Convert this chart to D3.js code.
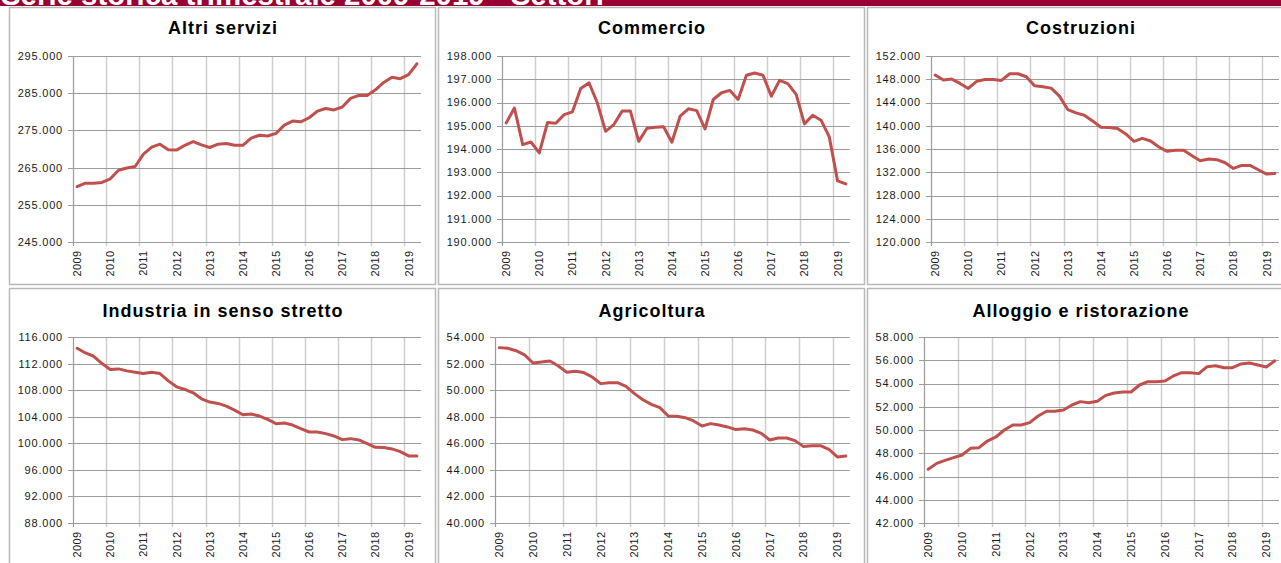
<!DOCTYPE html>
<html>
<head>
<meta charset="utf-8">
<script src="https://cdn.jsdelivr.net/npm/d3@7"></script>
<style>
  body { margin: 0; background: #fff; }
  svg { display: block; }
  text { font-family: Arial, "Liberation Sans", sans-serif; }
</style>
</head>
<body>
<div id="chart"></div>
<script>
// quarterly categories 2009 T1 .. 2019 T2
const quarters = [
  "2009-T1","2009-T2","2009-T3","2009-T4","2010-T1","2010-T2","2010-T3","2010-T4",
  "2011-T1","2011-T2","2011-T3","2011-T4","2012-T1","2012-T2","2012-T3","2012-T4",
  "2013-T1","2013-T2","2013-T3","2013-T4","2014-T1","2014-T2","2014-T3","2014-T4",
  "2015-T1","2015-T2","2015-T3","2015-T4","2016-T1","2016-T2","2016-T3","2016-T4",
  "2017-T1","2017-T2","2017-T3","2017-T4","2018-T1","2018-T2","2018-T3","2018-T4",
  "2019-T1","2019-T2"
]
const years = ["2009","2010","2011","2012","2013","2014","2015","2016","2017","2018","2019"]

const titles = ["Altri servizi", "Commercio", "Costruzioni",
                "Industria  in senso stretto", "Agricoltura", "Alloggio  e ristorazione"]

const altriServizi = [
  259900,260800,260800,261000,262000,264300,264900,265300,268600,270500,271300,269800,
  269700,271000,272000,271100,270400,271300,271500,271000,271000,272900,273700,273500,
  274200,276400,277500,277300,278400,280200,280900,280500,281300,283600,284400,284400,
  285900,287900,289300,288900,290000,292900
]
const commercio = [
  195120,195760,194190,194300,193830,195140,195110,195480,195600,196600,196850,195990,
  194760,195050,195630,195630,194330,194890,194940,194960,194290,195410,195730,195650,
  194860,196130,196420,196520,196130,197170,197270,197170,196270,196950,196810,196350,
  195080,195450,195240,194520,192630,192500
]
const costruzioni = [
  148720,147860,148030,147280,146420,147630,147970,147970,147800,148950,148950,148430,
  146880,146700,146470,145090,142790,142220,141810,140830,139740,139680,139510,138590,
  137320,137840,137380,136350,135600,135770,135770,134850,133990,134270,134160,133640,
  132660,133180,133180,132430,131680,131800
]
const industria = [
  114300,113600,113100,112000,111100,111200,110900,110700,110500,110700,110500,109400,
  108500,108100,107600,106700,106200,106000,105600,105000,104300,104400,104100,103600,
  102950,103050,102750,102200,101700,101700,101450,101100,100550,100700,100500,99950,
  99400,99350,99150,98750,98100,98100
]
const agricoltura = [
  53200,53150,52970,52650,52040,52120,52190,51820,51340,51420,51320,50990,
  50490,50560,50560,50290,49740,49280,48930,48680,48050,48030,47930,47680,
  47300,47480,47380,47230,47030,47100,47000,46750,46250,46400,46400,46200,
  45750,45820,45820,45550,44970,45040
]
const alloggio = [
  46620,47130,47390,47620,47850,48420,48480,49050,49400,50000,50430,50430,
  50630,51200,51610,51610,51720,52150,52440,52350,52470,52980,53180,53270,
  53270,53870,54160,54160,54210,54650,54930,54930,54850,55450,55530,55360,
  55360,55680,55760,55590,55420,55960
]

// y axis: [min, max, step] per panel
const yAxes = [
  [245000, 295000, 10000],
  [190000, 198000, 1000],
  [120000, 152000, 4000],
  [88000, 116000, 4000],
  [40000, 54000, 2000],
  [42000, 58000, 2000]
]

const seriesList = [altriServizi, commercio, costruzioni, industria, agricoltura, alloggio]

const width = 1281
const height = 563
const colX = [9, 438, 867]
const rowY = [7, 288]
const panelW = 426
const panelH = 277
const plotTop = 49
const plotBottom = 235
const marginRight = 14
const titleOffset = [26.5, 29.3]
const lineColor = "#c0504d"

const locale = d3.formatLocale({decimal: ",", thousands: ".", grouping: [3], currency: ["€", ""]})
const fmt = locale.format(",d")

const svg = d3.select("#chart").append("svg")
    .attr("width", width)
    .attr("height", height)

svg.append("rect").attr("width", width).attr("height", height).attr("fill", "#fff")

// header band (its title is cut by the top edge, as in the source)
svg.append("rect")
    .attr("x", 0).attr("y", 0)
    .attr("width", width).attr("height", 6)
    .attr("fill", "#990033")
svg.append("text")
    .attr("x", 1).attr("y", 5)
    .attr("fill", "#fff")
    .style("font-size", "29.4px")
    .style("font-weight", "bold")
    .text("Serie storica trimestrale 2009-2019 - Settori")

seriesList.forEach((values, k) => {
  const px = colX[k % 3]
  const py = rowY[Math.floor(k / 3)]
  const [yMin, yMax, yStep] = yAxes[k]
  const ticks = d3.range(yMin, yMax + yStep / 2, yStep)

  const g = svg.append("g").attr("transform", `translate(${px},${py})`)

  g.append("rect")
      .attr("x", 0.5).attr("y", 0.5)
      .attr("width", panelW).attr("height", panelH)
      .attr("fill", "#fff")
      .attr("stroke", "#b8b8b8")
      .attr("stroke-width", 1.5)

  g.append("text")
      .attr("x", panelW / 2 + 1)
      .attr("y", titleOffset[Math.floor(k / 3)])
      .attr("text-anchor", "middle")
      .style("font-size", "18px")
      .style("font-weight", "bold")
      .style("letter-spacing", "1px")
      .attr("fill", "#000")
      .text(titles[k])

  // measure widest tick label to place the plot area
  const probe = g.append("text")
      .style("font-size", "11px").style("letter-spacing", "0.8px")
      .text(fmt(yMax))
  const labelW = probe.node().getComputedTextLength()
  probe.remove()

  const left = Math.round(labelW + 19)
  const right = panelW - marginRight

  const x = d3.scaleBand().domain(quarters).range([left, right]).padding(0)
  const y = d3.scaleLinear().domain([yMin, yMax]).range([plotBottom, plotTop])

  // vertical gridlines at start of each year
  const yearStarts = quarters.filter((q, i) => i % 4 === 0)
  g.append("g").selectAll("line")
      .data(yearStarts)
      .join("line")
      .attr("x1", d => Math.round(x(d)) + 0.5)
      .attr("x2", d => Math.round(x(d)) + 0.5)
      .attr("y1", plotTop)
      .attr("y2", plotBottom + 4)
      .attr("stroke", "#cfcfcf")
      .attr("stroke-width", 1.5)

  // horizontal gridlines + y ticks
  g.append("g").selectAll("line")
      .data(ticks)
      .join("line")
      .attr("x1", left - 5)
      .attr("x2", right)
      .attr("y1", d => Math.round(y(d)) + 0.5)
      .attr("y2", d => Math.round(y(d)) + 0.5)
      .attr("stroke", "#9c9c9c")
      .attr("stroke-width", 1)

  // y axis line
  g.append("line")
      .attr("x1", left + 0.5).attr("x2", left + 0.5)
      .attr("y1", plotTop).attr("y2", plotBottom + 4)
      .attr("stroke", "#9c9c9c")

  g.append("g").selectAll("text")
      .data(ticks)
      .join("text")
      .attr("x", left - 10)
      .attr("y", d => y(d))
      .attr("dy", "0.36em")
      .attr("text-anchor", "end")
      .style("font-size", "11px")
      .style("letter-spacing", "0.8px")
      .attr("fill", "#1a1a1a")
      .text(d => fmt(d))

  // year labels, rotated
  g.append("g").selectAll("text")
      .data(yearStarts)
      .join("text")
      .attr("transform", d => `translate(${x(d) + x.bandwidth() / 2},${plotBottom + 8.5}) rotate(-90)`)
      .attr("text-anchor", "end")
      .attr("dy", "0.36em")
      .style("font-size", "11px")
      .style("letter-spacing", "0.4px")
      .attr("fill", "#1a1a1a")
      .text((d, i) => years[i])

  const line = d3.line()
      .x((d, i) => x(quarters[i]) + x.bandwidth() / 2)
      .y(d => y(d))

  g.append("path")
      .datum(values)
      .attr("d", line)
      .attr("fill", "none")
      .attr("stroke", lineColor)
      .attr("stroke-width", 3)
      .attr("stroke-linejoin", "round")
      .attr("stroke-linecap", "round")
})
</script>
</body>
</html>
